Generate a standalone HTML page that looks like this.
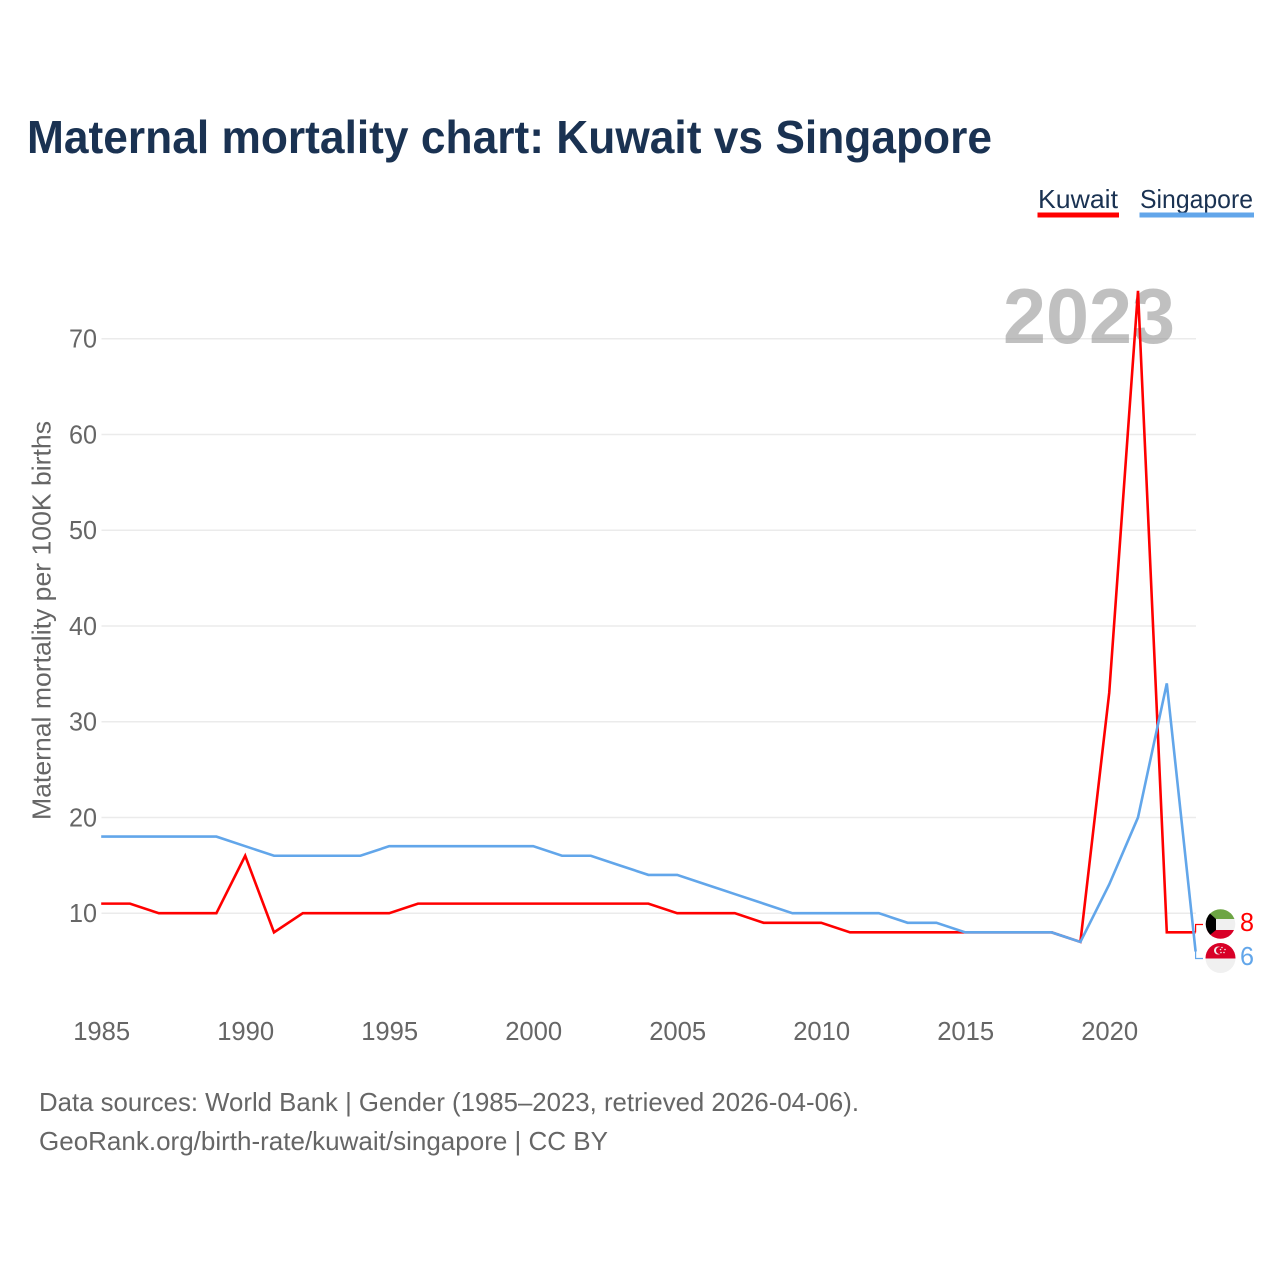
<!DOCTYPE html>
<html lang="en">
<head>
<meta charset="utf-8">
<title>Maternal mortality chart: Kuwait vs Singapore</title>
<style>
html,body{margin:0;padding:0;background:#fff;width:1280px;height:1280px;overflow:hidden}
svg{display:block}
text{font-family:"Liberation Sans",Arial,sans-serif}
</style>
</head>
<body>
<svg id="chart" xmlns="http://www.w3.org/2000/svg" width="1280" height="1280" viewBox="0 0 1280 1280">
  <rect x="0" y="0" width="1280" height="1280" fill="#ffffff"/>
  <text x="27" y="153" font-size="46" font-weight="700" fill="#1a3252" textLength="965" lengthAdjust="spacingAndGlyphs">Maternal mortality chart: Kuwait vs Singapore</text>

  <g>
    <g>
      <text x="1038" y="208" font-size="26" fill="#1a3252" textLength="80" lengthAdjust="spacingAndGlyphs">Kuwait</text>
      <rect x="1037.500" y="212.500" width="81.500" height="5" fill="#ff0000"/>
    </g>
    <g>
      <text x="1140" y="208" font-size="26" fill="#1a3252" textLength="113" lengthAdjust="spacingAndGlyphs">Singapore</text>
      <rect x="1139.500" y="212.500" width="114.500" height="5" fill="#62a6ea"/>
    </g>
  </g>

  <g id="grid"></g>
  <text x="1003" y="343" font-size="78" font-weight="700" fill="#8c8c8c" fill-opacity="0.55" textLength="172" lengthAdjust="spacingAndGlyphs">2023</text>
  <g id="yticks"></g>
  <g id="xticks"></g>
  <text transform="translate(50.500,820) rotate(-90)" x="0" y="0" font-size="26" fill="#666666" textLength="399" lengthAdjust="spacingAndGlyphs">Maternal mortality per 100K births</text>
  <g id="series"></g>

  <defs>
    <clipPath id="clip-kw"><circle cx="1220.500" cy="924" r="14.800"/></clipPath>
    <clipPath id="clip-sg"><circle cx="1220.500" cy="958" r="15"/></clipPath>
  </defs>
  <g clip-path="url(#clip-kw)">
    <rect x="1205" y="909" width="31" height="10" fill="#6da544"/>
    <rect x="1205" y="919" width="31" height="11" fill="#f0f0f0"/>
    <rect x="1205" y="930" width="31" height="9" fill="#d80027"/>
    <polygon points="1205,909 1216,919 1216,930 1205,939" fill="#000000"/>
  </g>
  <g clip-path="url(#clip-sg)">
    <rect x="1205" y="943" width="31" height="15.500" fill="#d80027"/>
    <rect x="1205" y="958.500" width="31" height="15" fill="#f0f0f0"/>
    <circle cx="1218" cy="950.500" r="4" fill="#f0f0f0"/>
    <circle cx="1219.500" cy="950.500" r="3.500" fill="#d80027"/>
    <circle cx="1222" cy="947.500" r="0.800" fill="#f0f0f0"/>
    <circle cx="1225" cy="949.500" r="0.800" fill="#f0f0f0"/>
    <circle cx="1224" cy="952.500" r="0.800" fill="#f0f0f0"/>
    <circle cx="1221" cy="952.500" r="0.800" fill="#f0f0f0"/>
    <circle cx="1220.500" cy="949.500" r="0.800" fill="#f0f0f0"/>
  </g>
  <text x="1240" y="931" font-size="26" fill="#ff0000" textLength="14" lengthAdjust="spacingAndGlyphs">8</text>
  <text x="1240" y="965" font-size="26" fill="#62a6ea" textLength="14" lengthAdjust="spacingAndGlyphs">6</text>

  <text x="39" y="1111" font-size="26" fill="#666666" textLength="820" lengthAdjust="spacingAndGlyphs">Data sources: World Bank | Gender (1985–2023, retrieved 2026-04-06).</text>
  <text x="39" y="1150" font-size="26" fill="#666666" textLength="569" lengthAdjust="spacingAndGlyphs">GeoRank.org/birth-rate/kuwait/singapore | CC BY</text>
</svg>
<script>
const startYear = 1985;
const kuwaitValues = [11,11,10,10,10,16,8,10,10,10,10,11,11,11,11,11,11,11,11,11,10,10,10,9,9,9,8,8,8,8,8,8,8,8,7,33,75,8,8];
const singaporeValues = [18,18,18,18,18,17,16,16,16,16,17,17,17,17,17,17,16,16,15,14,14,13,12,11,10,10,10,10,9,9,8,8,8,8,7,13,20,34,6];
const yTickValues = [10,20,30,40,50,60,70];
const xTickValues = [1985,1990,1995,2000,2005,2010,2015,2020];

const NS = 'http://www.w3.org/2000/svg';
function xScale(year){ return 101.2 + (year - 1985) * 28.8; }
function yScale(v){ return 913.2 - (v - 10) * 9.575; }
function make(tag, attrs, parent){
  const el = document.createElementNS(NS, tag);
  for (const k in attrs) el.setAttribute(k, attrs[k]);
  parent.appendChild(el);
  return el;
}
const grid = document.getElementById('grid');
const yticks = document.getElementById('yticks');
const xticks = document.getElementById('xticks');
const series = document.getElementById('series');

yTickValues.forEach(function(v){
  const line = make('line', {x1:101.5, x2:1196, y1:yScale(v), y2:yScale(v), stroke:'#ebebeb', 'stroke-width':1.5}, grid);
  
  
  const t = make('text', {x:69, y:yScale(v)+9, 'font-size':26, fill:'#666666', textLength:28, lengthAdjust:'spacingAndGlyphs'}, yticks);
  t.textContent = String(v);
  
  
});
xTickValues.forEach(function(y){
  const t = make('text', {x:xScale(y)-28, y:1040, 'font-size':26, fill:'#666666', textLength:57, lengthAdjust:'spacingAndGlyphs'}, xticks);
  t.textContent = String(y);
  
  
});
function linePoints(values){
  return values.map(function(v, i){ return xScale(startYear + i).toFixed(2) + ',' + yScale(v).toFixed(2); }).join(' ');
}
const kuwaitLine = make('polyline', {points:linePoints(kuwaitValues), fill:'none', stroke:'#ff0000', 'stroke-width':2.6, 'stroke-linejoin':'miter'}, series);


const singaporeLine = make('polyline', {points:linePoints(singaporeValues), fill:'none', stroke:'#62a6ea', 'stroke-width':2.6, 'stroke-linejoin':'miter'}, series);



function connector(values, labelY, color){
  const lastY = yScale(values[values.length - 1]);
  const lastX = xScale(startYear + values.length - 1);
  return make('path', {d:'M' + lastX + ' ' + lastY + 'V' + labelY + 'H1203', fill:'none', stroke:color, 'stroke-width':1.2}, series);
}
const kuwaitConnector = connector(kuwaitValues, 924.5, '#ff0000');


const singaporeConnector = connector(singaporeValues, 958.5, '#62a6ea');


</script>
</body>
</html>
